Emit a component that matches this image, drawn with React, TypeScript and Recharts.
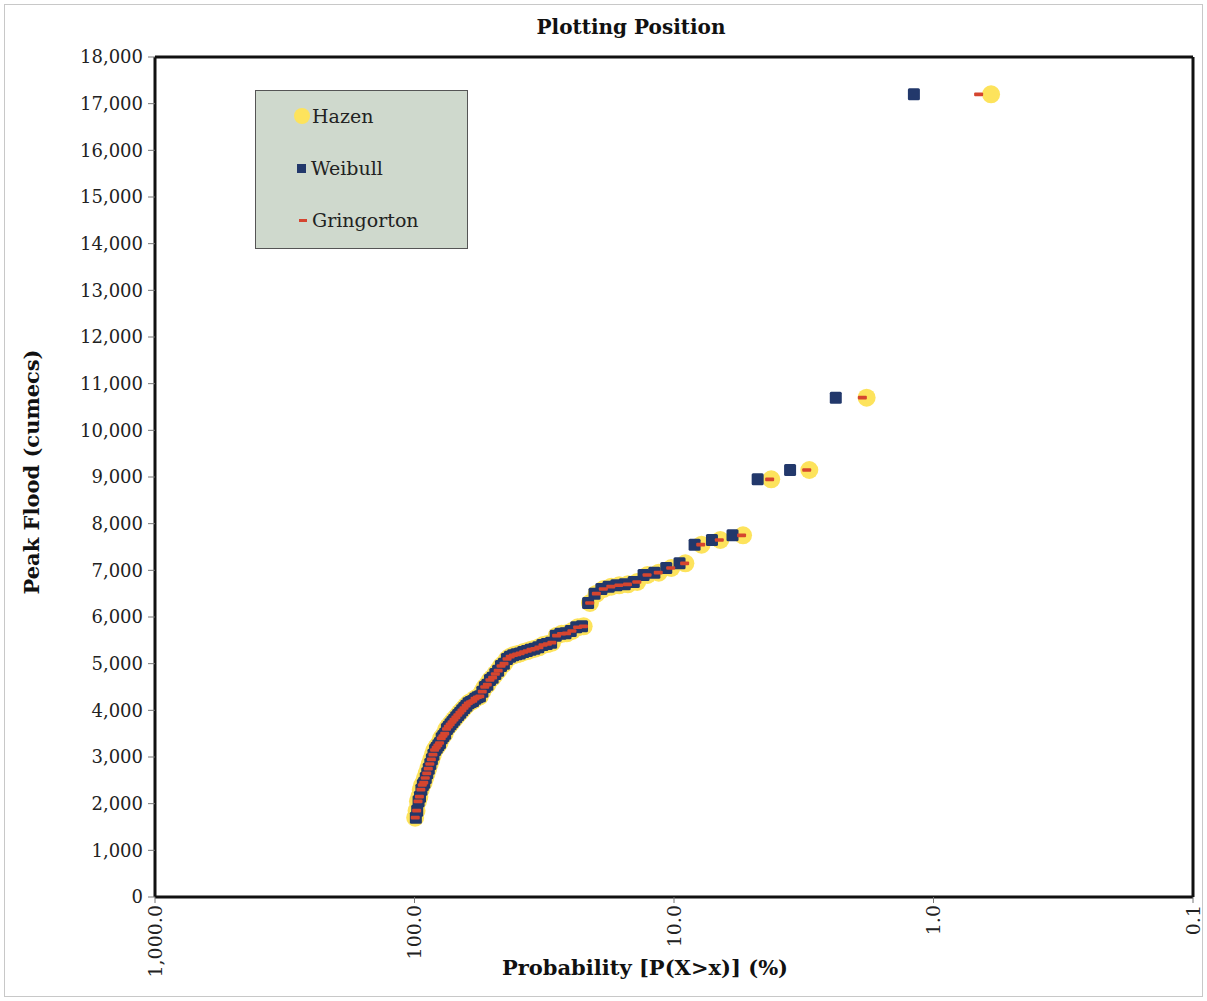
import React from 'react'
import {
    ScatterChart,
    Scatter,
    XAxis,
    YAxis,
    ReferenceLine,
    Legend,
} from 'recharts'

// peak floods ranked largest to smallest (cumecs)
const peakFlood = [
    17200, 10700, 9150, 8950, 7750, 7650, 7550, 7150, 7050, 6950,
    6900, 6750, 6700, 6680, 6650, 6600, 6500, 6300, 5800, 5780,
    5700, 5650, 5640, 5600, 5450, 5420, 5400, 5350, 5320, 5300,
    5270, 5250, 5220, 5200, 5180, 5150, 5100, 5000, 4950, 4850,
    4780, 4700, 4650, 4550, 4500, 4400, 4300, 4280, 4250, 4200,
    4180, 4150, 4100, 4050, 4000, 3950, 3900, 3850, 3800, 3750,
    3700, 3650, 3600, 3500, 3450, 3400, 3300, 3250, 3200, 3150,
    3050, 2950, 2850, 2750, 2650, 2550, 2450, 2400, 2300, 2150,
    2050, 1850, 1700,
]

// exceedance probability (%) for each rank
const hazenP = [
    0.60, 1.81, 3.01, 4.22, 5.42, 6.63, 7.83, 9.04, 10.24, 11.45,
    12.65, 13.86, 15.06, 16.27, 17.47, 18.67, 19.88, 21.08, 22.29, 23.49,
    24.70, 25.90, 27.11, 28.31, 29.52, 30.72, 31.93, 33.13, 34.34, 35.54,
    36.75, 37.95, 39.16, 40.36, 41.57, 42.77, 43.98, 45.18, 46.39, 47.59,
    48.80, 50.00, 51.20, 52.41, 53.61, 54.82, 56.02, 57.23, 58.43, 59.64,
    60.84, 62.05, 63.25, 64.46, 65.66, 66.87, 68.07, 69.28, 70.48, 71.69,
    72.89, 74.10, 75.30, 76.51, 77.71, 78.92, 80.12, 81.33, 82.53, 83.73,
    84.94, 86.14, 87.35, 88.55, 89.76, 90.96, 92.17, 93.37, 94.58, 95.78,
    96.99, 98.19, 99.40,
]

const weibullP = [
    1.19, 2.38, 3.57, 4.76, 5.95, 7.14, 8.33, 9.52, 10.71, 11.90,
    13.10, 14.29, 15.48, 16.67, 17.86, 19.05, 20.24, 21.43, 22.62, 23.81,
    25.00, 26.19, 27.38, 28.57, 29.76, 30.95, 32.14, 33.33, 34.52, 35.71,
    36.90, 38.10, 39.29, 40.48, 41.67, 42.86, 44.05, 45.24, 46.43, 47.62,
    48.81, 50.00, 51.19, 52.38, 53.57, 54.76, 55.95, 57.14, 58.33, 59.52,
    60.71, 61.90, 63.10, 64.29, 65.48, 66.67, 67.86, 69.05, 70.24, 71.43,
    72.62, 73.81, 75.00, 76.19, 77.38, 78.57, 79.76, 80.95, 82.14, 83.33,
    84.52, 85.71, 86.90, 88.10, 89.29, 90.48, 91.67, 92.86, 94.05, 95.24,
    96.43, 97.62, 98.81,
]

const gringortonP = [
    0.67, 1.88, 3.08, 4.28, 5.49, 6.69, 7.89, 9.10, 10.30, 11.50,
    12.70, 13.91, 15.11, 16.31, 17.52, 18.72, 19.92, 21.13, 22.33, 23.53,
    24.74, 25.94, 27.14, 28.35, 29.55, 30.75, 31.95, 33.16, 34.36, 35.56,
    36.77, 37.97, 39.17, 40.38, 41.58, 42.78, 43.99, 45.19, 46.39, 47.59,
    48.80, 50.00, 51.20, 52.41, 53.61, 54.81, 56.02, 57.22, 58.42, 59.63,
    60.83, 62.03, 63.23, 64.44, 65.64, 66.84, 68.05, 69.25, 70.45, 71.66,
    72.86, 74.06, 75.27, 76.47, 77.67, 78.87, 80.08, 81.28, 82.48, 83.69,
    84.89, 86.09, 87.30, 88.50, 89.70, 90.91, 92.11, 93.31, 94.51, 95.72,
    96.92, 98.12, 99.33,
]

const xTicks = [1000, 100, 10, 1, 0.1]
const yTicks = [0, 1000, 2000, 3000, 4000, 5000, 6000, 7000, 8000, 9000,
    10000, 11000, 12000, 13000, 14000, 15000, 16000, 17000, 18000]

const hazenData = peakFlood.map((q, i) => ({ p: hazenP[i], q }))
const weibullData = peakFlood.map((q, i) => ({ p: weibullP[i], q }))
const gringortonData = peakFlood.map((q, i) => ({ p: gringortonP[i], q }))

const FONT = '"DejaVu Serif", "Liberation Serif", serif'
const HAZEN = '#fde35c'
const WEIBULL = '#22386b'
const GRING = '#d5452f'

const HazenDot = (props: any) => <circle cx={props.cx} cy={props.cy} r={9} fill={HAZEN} />
const WeibullDot = (props: any) => (
    <rect x={props.cx - 6} y={props.cy - 6} width={12} height={12} rx={1.5} fill={WEIBULL} />
)
const GringDot = (props: any) => (
    <rect x={props.cx - 4.5} y={props.cy - 1.8} width={9} height={3.6} rx={1} fill={GRING} />
)

const fmtX = (v: number) =>
    v.toLocaleString('en-US', { minimumFractionDigits: 1, maximumFractionDigits: 1 })

const XTick = ({ x, y, payload }: any) => (
    <text
        x={x}
        y={y}
        transform={`rotate(-90 ${x} ${y})`}
        textAnchor="end"
        dy="0.35em"
        fontFamily={FONT}
        fontSize={19}
        fill="#222"
    >
        {fmtX(payload.value)}
    </text>
)

const XLabel = ({ viewBox }: any) => (
    <text
        x={viewBox.x + viewBox.width / 2 - 29}
        y={975}
        textAnchor="middle"
        fontFamily={FONT}
        fontWeight="bold"
        fontSize={21}
        fill="#111"
    >
        Probability [P(X&gt;x)] (%)
    </text>
)

const YLabel = () => (
    <text
        x={0}
        y={0}
        transform="translate(39 472) rotate(-90)"
        textAnchor="middle"
        fontFamily={FONT}
        fontWeight="bold"
        fontSize={21}
        fill="#111"
    >
        Peak Flood (cumecs)
    </text>
)

const LegendBox = () => (
    <div
        style={{
            width: 211,
            height: 157,
            background: '#cfd9cd',
            border: '1px solid #555',
            fontFamily: FONT,
            fontSize: 19,
            color: '#222',
            position: 'relative',
        }}
    >
        {[
            { name: 'Hazen', top: 14, icon: <span style={{ display: 'inline-block', width: 16, height: 16, borderRadius: 8, background: HAZEN }} /> },
            { name: 'Weibull', top: 66, icon: <span style={{ display: 'inline-block', width: 9, height: 9, background: WEIBULL, margin: '0 3px' }} /> },
            { name: 'Gringorton', top: 118, icon: <span style={{ display: 'inline-block', width: 8, height: 3, background: GRING, margin: '0 3px 0 5px' }} /> },
        ].map((it) => (
            <div key={it.name} style={{ position: 'absolute', left: 38, top: it.top, display: 'flex', alignItems: 'center', gap: 2 }}>
                {it.icon}
                <span>{it.name}</span>
            </div>
        ))}
    </div>
)

export default function App() {
    return (
        <div style={{ position: 'absolute', left: 0, top: 0, width: 1207, height: 1001, background: '#fff' }}>
            <div style={{ position: 'absolute', left: 4, top: 4, width: 1199, height: 993, border: '1px solid #c8c8c8', boxSizing: 'border-box' }} />
            <div
                style={{
                    position: 'absolute',
                    top: 15,
                    left: 0,
                    width: 1262,
                    textAlign: 'center',
                    fontFamily: FONT,
                    fontWeight: 'bold',
                    fontSize: 20,
                    color: '#111',
                }}
            >
                Plotting Position
            </div>
            <ScatterChart width={1207} height={1001} margin={{ top: 57, right: 14, bottom: 0, left: 0 }}>
                <XAxis
                    dataKey="p"
                    type="number"
                    scale="log"
                    domain={[0.1, 1000]}
                    ticks={xTicks}
                    reversed
                    allowDataOverflow
                    height={104}
                    axisLine={{ stroke: '#111', strokeWidth: 3 }}
                    tickLine={{ stroke: '#777' }}
                    tickSize={6}
                    tick={<XTick />}
                    label={<XLabel />}
                />
                <YAxis
                    dataKey="q"
                    type="number"
                    domain={[0, 18000]}
                    ticks={yTicks}
                    width={155}
                    axisLine={{ stroke: '#111', strokeWidth: 3 }}
                    tickLine={{ stroke: '#777' }}
                    tickSize={7}
                    tickMargin={5}
                    tickFormatter={(v: number) => v.toLocaleString('en-US')}
                    tick={{ fontFamily: FONT, fontSize: 18, fill: '#222' }}
                    label={<YLabel />}
                />
                <ReferenceLine y={18000} stroke="#111" strokeWidth={3} />
                <ReferenceLine x={0.1} stroke="#111" strokeWidth={3} />
                <Legend
                    layout="vertical"
                    align="center"
                    verticalAlign="middle"
                    wrapperStyle={{ left: 255, top: 90, width: 213, height: 159 }}
                    content={() => <LegendBox />}
                />
                <Scatter name="Hazen" data={hazenData} shape={HazenDot} isAnimationActive={false} />
                <Scatter name="Weibull" data={weibullData} shape={WeibullDot} isAnimationActive={false} />
                <Scatter name="Gringorton" data={gringortonData} shape={GringDot} isAnimationActive={false} />
            </ScatterChart>
        </div>
    )
}
